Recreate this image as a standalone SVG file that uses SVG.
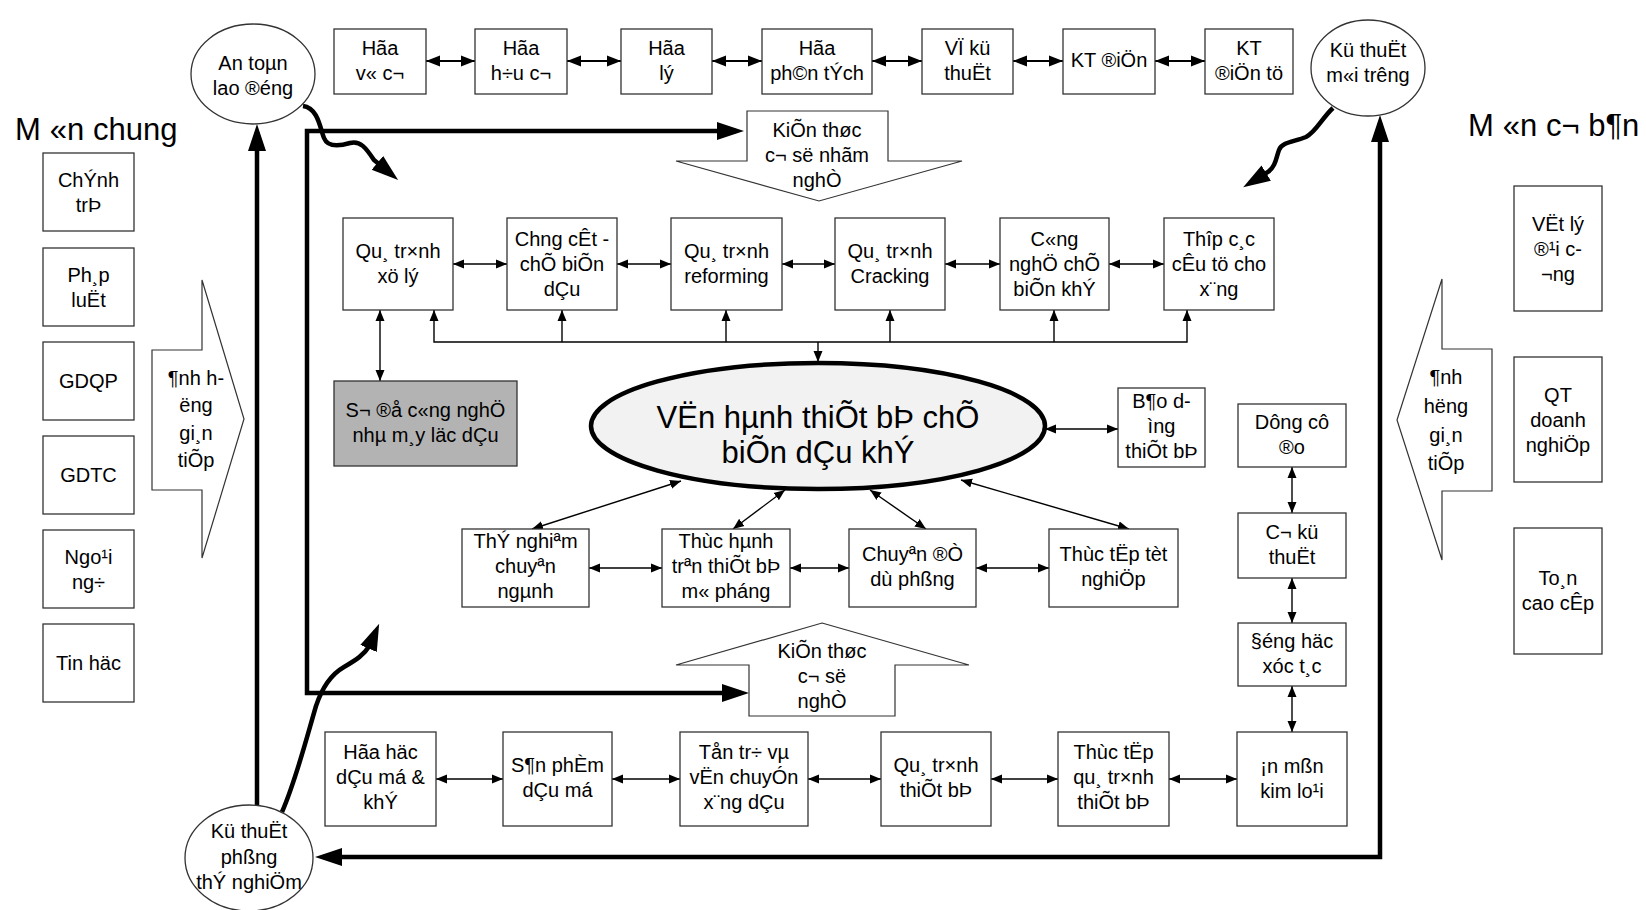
<svg xmlns="http://www.w3.org/2000/svg" width="1646" height="910" viewBox="0 0 1646 910">
<style>
  .box{fill:#fff;stroke:#333;stroke-width:1.3}
  .gray{fill:#b3b3b3;stroke:#333;stroke-width:1.3}
  .big{fill:#fff;stroke:#333;stroke-width:1.2}
  text{font-family:"Liberation Sans",Arial,sans-serif;font-size:20px;text-anchor:middle;fill:#000}
  .title{font-size:31px;text-anchor:start}
  .main{font-size:31px}
  .thin{fill:none;stroke:#000;stroke-width:1.4;marker-start:url(#a);marker-end:url(#a)}
  .one{fill:none;stroke:#000;stroke-width:1.4;marker-end:url(#a)}
  .mid{fill:none;stroke:#000;stroke-width:2.2;marker-start:url(#am);marker-end:url(#am)}
  .thick{fill:none;stroke:#000;stroke-width:4.5;marker-end:url(#ab)}
  .thick2{fill:none;stroke:#000;stroke-width:4.5;marker-start:url(#ab);marker-end:url(#ab)}
</style>
<defs>
  <marker id="a" viewBox="-11 -5 11 10" refX="0" refY="0" markerWidth="11" markerHeight="10" markerUnits="userSpaceOnUse" orient="auto-start-reverse">
    <path d="M0,0 L-11,-4.5 L-11,4.5 Z" fill="#000"/>
  </marker>
  <marker id="am" viewBox="-14 -6 14 12" refX="0" refY="0" markerWidth="14" markerHeight="12" markerUnits="userSpaceOnUse" orient="auto-start-reverse">
    <path d="M0,0 L-14,-5.5 L-14,5.5 Z" fill="#000"/>
  </marker>
  <marker id="ab" viewBox="-27 -10 27 20" refX="-8" refY="0" markerWidth="27" markerHeight="20" markerUnits="userSpaceOnUse" orient="auto-start-reverse">
    <path d="M0,0 L-27,-9 L-27,9 Z" fill="#000"/>
  </marker>
</defs>
<rect width="1646" height="910" fill="#fff"/>

<text class="title" x="15" y="140">M<tspan dx="9">«n chung</tspan></text>
<text class="title" x="1468" y="136">M<tspan dx="9">«n c¬ b¶n</tspan></text>

<!-- connectors -->
<g id="connectors">
  <!-- top row -->
  <path class="mid" d="M426,61 H475"/>
  <path class="mid" d="M567,61 H621"/>
  <path class="mid" d="M712,61 H762"/>
  <path class="mid" d="M872,61 H922"/>
  <path class="mid" d="M1013,61 H1063"/>
  <path class="mid" d="M1155,61 H1205"/>
  <!-- process row -->
  <path class="thin" d="M453,264 H507"/>
  <path class="thin" d="M617,264 H671"/>
  <path class="thin" d="M782,264 H835"/>
  <path class="thin" d="M945,264 H1000"/>
  <path class="thin" d="M1109,264 H1164"/>
  <path class="thin" d="M380,310 V381"/>
  <path class="thin" d="M434,310 V342 H1187 V310"/>
  <path class="one" d="M562,342 V310"/>
  <path class="one" d="M726,342 V310"/>
  <path class="one" d="M890,342 V310"/>
  <path class="one" d="M1054,342 V310"/>
  <path class="one" d="M818,342 V362"/>
  <path class="thin" d="M1045,429 H1118"/>
  <!-- ellipse to practice row -->
  <path class="thin" d="M532,529 L681,481"/>
  <path class="thin" d="M733,529 L785,490"/>
  <path class="thin" d="M926,529 L870,490"/>
  <path class="thin" d="M1129,529 L961,480"/>
  <path class="thin" d="M589,568 H662"/>
  <path class="thin" d="M790,568 H849"/>
  <path class="thin" d="M976,568 H1049"/>
  <!-- right column -->
  <path class="thin" d="M1292,467 V513"/>
  <path class="thin" d="M1292,578 V623"/>
  <path class="thin" d="M1292,686 V732"/>
  <!-- bottom row -->
  <path class="thin" d="M436,779 H503"/>
  <path class="thin" d="M612,779 H680"/>
  <path class="thin" d="M808,779 H881"/>
  <path class="thin" d="M991,779 H1058"/>
  <path class="thin" d="M1169,779 H1237"/>
  <!-- heavy frame lines -->
  <path class="thick2" d="M736,131 H307 V693 H741"/>
  <path class="thick" d="M257,805 V132"/>
  <path class="thick2" d="M323,857 H1380 V123"/>
  <!-- wavy arrows -->
  <path class="thick" d="M303,106 C318,108 320,128 324,138 C328,148 340,146 350,143 C360,140 366,148 374,160 L392,175"/>
  <path class="thick" d="M1333,108 C1322,118 1316,132 1306,137 C1294,142 1282,142 1279,150 C1276,158 1276,166 1268,172 L1250,183"/>
  <path class="thick" d="M282,812 C296,780 306,740 316,706 C322,688 330,675 344,667 C356,660 364,655 370,645 L376,631"/>
</g>

<!-- top row -->
<g id="hoa-vo-co"><rect class="box" x="334" y="29" width="92" height="65"/><text x="380" y="55">Hãa</text><text x="380" y="80">v« c¬</text></g>
<g id="hoa-huu-co"><rect class="box" x="475" y="29" width="92" height="65"/><text x="521" y="55">Hãa</text><text x="521" y="80">h÷u c¬</text></g>
<g id="hoa-ly"><rect class="box" x="621" y="29" width="91" height="65"/><text x="666.5" y="55">Hãa</text><text x="666.5" y="80">lý</text></g>
<g id="hoa-phan-tich"><rect class="box" x="762" y="29" width="110" height="65"/><text x="817" y="55">Hãa</text><text x="817" y="80">ph©n tÝch</text></g>
<g id="ve-ky-thuat"><rect class="box" x="922" y="29" width="91" height="65"/><text x="967.5" y="55">VÏ kü</text><text x="967.5" y="80">thuËt</text></g>
<g id="kt-dien"><rect class="box" x="1063" y="29" width="92" height="65"/><text x="1109" y="67">KT ®iÖn</text></g>
<g id="kt-dien-tu"><rect class="box" x="1205" y="29" width="88" height="65"/><text x="1249" y="55">KT</text><text x="1249" y="80">®iÖn tö</text></g>

<!-- circles -->
<g id="an-toan"><ellipse class="box" cx="253" cy="74" rx="62" ry="50"/><text x="253" y="70">An toµn</text><text x="253" y="95">lao ®éng</text></g>
<g id="moi-truong"><ellipse class="box" cx="1368" cy="68" rx="57" ry="48"/><text x="1368" y="57">Kü thuËt</text><text x="1368" y="82">m«i trêng</text></g>
<g id="phong-thi-nghiem"><ellipse class="box" cx="249" cy="858" rx="64" ry="53"/><text x="249" y="838">Kü thuËt</text><text x="249" y="864">phßng</text><text x="249" y="889">thÝ nghiÖm</text></g>

<!-- general subjects -->
<g id="chinh-tri"><rect class="box" x="43" y="153" width="91" height="78"/><text x="88.5" y="187">ChÝnh</text><text x="88.5" y="212">trÞ</text></g>
<g id="phap-luat"><rect class="box" x="43" y="248" width="91" height="78"/><text x="88.5" y="282">Ph¸p</text><text x="88.5" y="307">luËt</text></g>
<g id="gdqp"><rect class="box" x="43" y="342" width="91" height="78"/><text x="88.5" y="388">GDQP</text></g>
<g id="gdtc"><rect class="box" x="43" y="436" width="91" height="78"/><text x="88.5" y="482">GDTC</text></g>
<g id="ngoai-ngu"><rect class="box" x="43" y="530" width="91" height="78"/><text x="88.5" y="564">Ngo¹i</text><text x="88.5" y="589">ng÷</text></g>
<g id="tin-hoc"><rect class="box" x="43" y="624" width="91" height="78"/><text x="88.5" y="670">Tin häc</text></g>

<!-- indirect influence callouts -->
<g id="anh-huong-trai"><path class="big" d="M152,350 H202 V280 L244,419 L202,558 V490 H152 Z"/><text x="196" y="385">¶nh h-</text><text x="196" y="412">ëng</text><text x="196" y="440">gi¸n</text><text x="196" y="467">tiÕp</text></g>
<g id="anh-huong-phai"><path class="big" d="M1492,349 H1442 V279 L1397,420 L1442,560 V491 H1492 Z"/><text x="1446" y="384">¶nh</text><text x="1446" y="413">hëng</text><text x="1446" y="442">gi¸n</text><text x="1446" y="470">tiÕp</text></g>

<!-- basic subjects -->
<g id="vat-ly"><rect class="box" x="1514" y="186" width="88" height="125"/><text x="1558" y="231">VËt lý</text><text x="1558" y="256">®¹i c-</text><text x="1558" y="281">¬ng</text></g>
<g id="qt-doanh-nghiep"><rect class="box" x="1514" y="357" width="88" height="125"/><text x="1558" y="402">QT</text><text x="1558" y="427">doanh</text><text x="1558" y="452">nghiÖp</text></g>
<g id="toan-cao-cap"><rect class="box" x="1514" y="528" width="88" height="126"/><text x="1558" y="585">To¸n</text><text x="1558" y="610">cao cÊp</text></g>

<!-- foundation knowledge arrows -->
<g id="kien-thuc-nhom-nghe"><path class="big" d="M747,111 H888 V161 H962 L819,201 L676,161 H747 Z"/><text x="817" y="137">KiÕn thøc</text><text x="817" y="162">c¬ së nhãm</text><text x="817" y="187">nghÒ</text></g>
<g id="kien-thuc-nghe"><path class="big" d="M822,623 L969,665 H895 V716 H749 V665 H676 Z"/><text x="822" y="658">KiÕn thøc</text><text x="822" y="683">c¬ së</text><text x="822" y="708">nghÒ</text></g>

<!-- process row -->
<g id="xu-ly"><rect class="box" x="343" y="218" width="110" height="92"/><text x="398" y="258">Qu¸ tr×nh</text><text x="398" y="283">xö lý</text></g>
<g id="chung-cat"><rect class="box" x="507" y="218" width="110" height="92"/><text x="562" y="246">Chng cÊt -</text><text x="562" y="271">chÕ biÕn</text><text x="562" y="296">dÇu</text></g>
<g id="reforming"><rect class="box" x="671" y="218" width="111" height="92"/><text x="726.5" y="258">Qu¸ tr×nh</text><text x="726.5" y="283">reforming</text></g>
<g id="cracking"><rect class="box" x="835" y="218" width="110" height="92"/><text x="890" y="258">Qu¸ tr×nh</text><text x="890" y="283">Cracking</text></g>
<g id="che-bien-khi"><rect class="box" x="1000" y="218" width="109" height="92"/><text x="1054.5" y="246">C«ng</text><text x="1054.5" y="271">nghÖ chÕ</text><text x="1054.5" y="296">biÕn khÝ</text></g>
<g id="cau-tu-xang"><rect class="box" x="1164" y="218" width="110" height="92"/><text x="1219" y="246">Thîp c¸c</text><text x="1219" y="271">cÊu tö cho</text><text x="1219" y="296">x¨ng</text></g>

<g id="so-do"><rect class="gray" x="334" y="381" width="183" height="85"/><text x="425.5" y="417">S¬ ®å c«ng nghÖ</text><text x="425.5" y="442">nhµ m¸y läc dÇu</text></g>

<g id="van-hanh"><ellipse cx="818" cy="426" rx="227" ry="63" fill="#f2f2f2" stroke="#000" stroke-width="4.5"/><text class="main" x="818" y="428">VËn hµnh thiÕt bÞ chÕ</text><text class="main" x="818" y="463">biÕn dÇu khÝ</text></g>

<g id="bao-duong"><rect class="box" x="1118" y="388" width="87" height="79"/><text x="1161.5" y="408">B¶o d-</text><text x="1161.5" y="433">ìng</text><text x="1161.5" y="458">thiÕt bÞ</text></g>

<!-- right column -->
<g id="dung-cu-do"><rect class="box" x="1238" y="404" width="108" height="63"/><text x="1292" y="429">Dông cô</text><text x="1292" y="454">®o</text></g>
<g id="co-ky-thuat"><rect class="box" x="1238" y="513" width="108" height="65"/><text x="1292" y="539">C¬ kü</text><text x="1292" y="564">thuËt</text></g>
<g id="dong-hoc"><rect class="box" x="1238" y="623" width="108" height="63"/><text x="1292" y="648">§éng häc</text><text x="1292" y="673">xóc t¸c</text></g>
<g id="an-mon"><rect class="box" x="1237" y="732" width="110" height="94"/><text x="1292" y="773">¡n mßn</text><text x="1292" y="798">kim lo¹i</text></g>

<!-- practice row -->
<g id="thi-nghiem"><rect class="box" x="462" y="529" width="127" height="78"/><text x="525.5" y="548">ThÝ nghiªm</text><text x="525.5" y="573">chuyªn</text><text x="525.5" y="598">ngµnh</text></g>
<g id="thuc-hanh"><rect class="box" x="662" y="529" width="128" height="78"/><text x="726" y="548">Thùc hµnh</text><text x="726" y="573">trªn thiÕt bÞ</text><text x="726" y="598">m« pháng</text></g>
<g id="chuyen-de"><rect class="box" x="849" y="529" width="127" height="78"/><text x="912.5" y="561">Chuyªn ®Ò</text><text x="912.5" y="586">dù phßng</text></g>
<g id="thuc-tap-tot-nghiep"><rect class="box" x="1049" y="529" width="129" height="78"/><text x="1113.5" y="561">Thùc tËp tèt</text><text x="1113.5" y="586">nghiÖp</text></g>

<!-- bottom row -->
<g id="hoa-hoc-dau-mo"><rect class="box" x="325" y="732" width="111" height="94"/><text x="380.5" y="759">Hãa häc</text><text x="380.5" y="784">dÇu má &amp;</text><text x="380.5" y="809">khÝ</text></g>
<g id="san-pham"><rect class="box" x="503" y="732" width="109" height="94"/><text x="557.5" y="772">S¶n phÈm</text><text x="557.5" y="797">dÇu má</text></g>
<g id="ton-tru"><rect class="box" x="680" y="732" width="128" height="94"/><text x="744" y="759">Tån tr÷ vµ</text><text x="744" y="784">vËn chuyÓn</text><text x="744" y="809">x¨ng dÇu</text></g>
<g id="qua-trinh-thiet-bi"><rect class="box" x="881" y="732" width="110" height="94"/><text x="936" y="772">Qu¸ tr×nh</text><text x="936" y="797">thiÕt bÞ</text></g>
<g id="thuc-tap-qua-trinh"><rect class="box" x="1058" y="732" width="111" height="94"/><text x="1113.5" y="759">Thùc tËp</text><text x="1113.5" y="784">qu¸ tr×nh</text><text x="1113.5" y="809">thiÕt bÞ</text></g>
</svg>
